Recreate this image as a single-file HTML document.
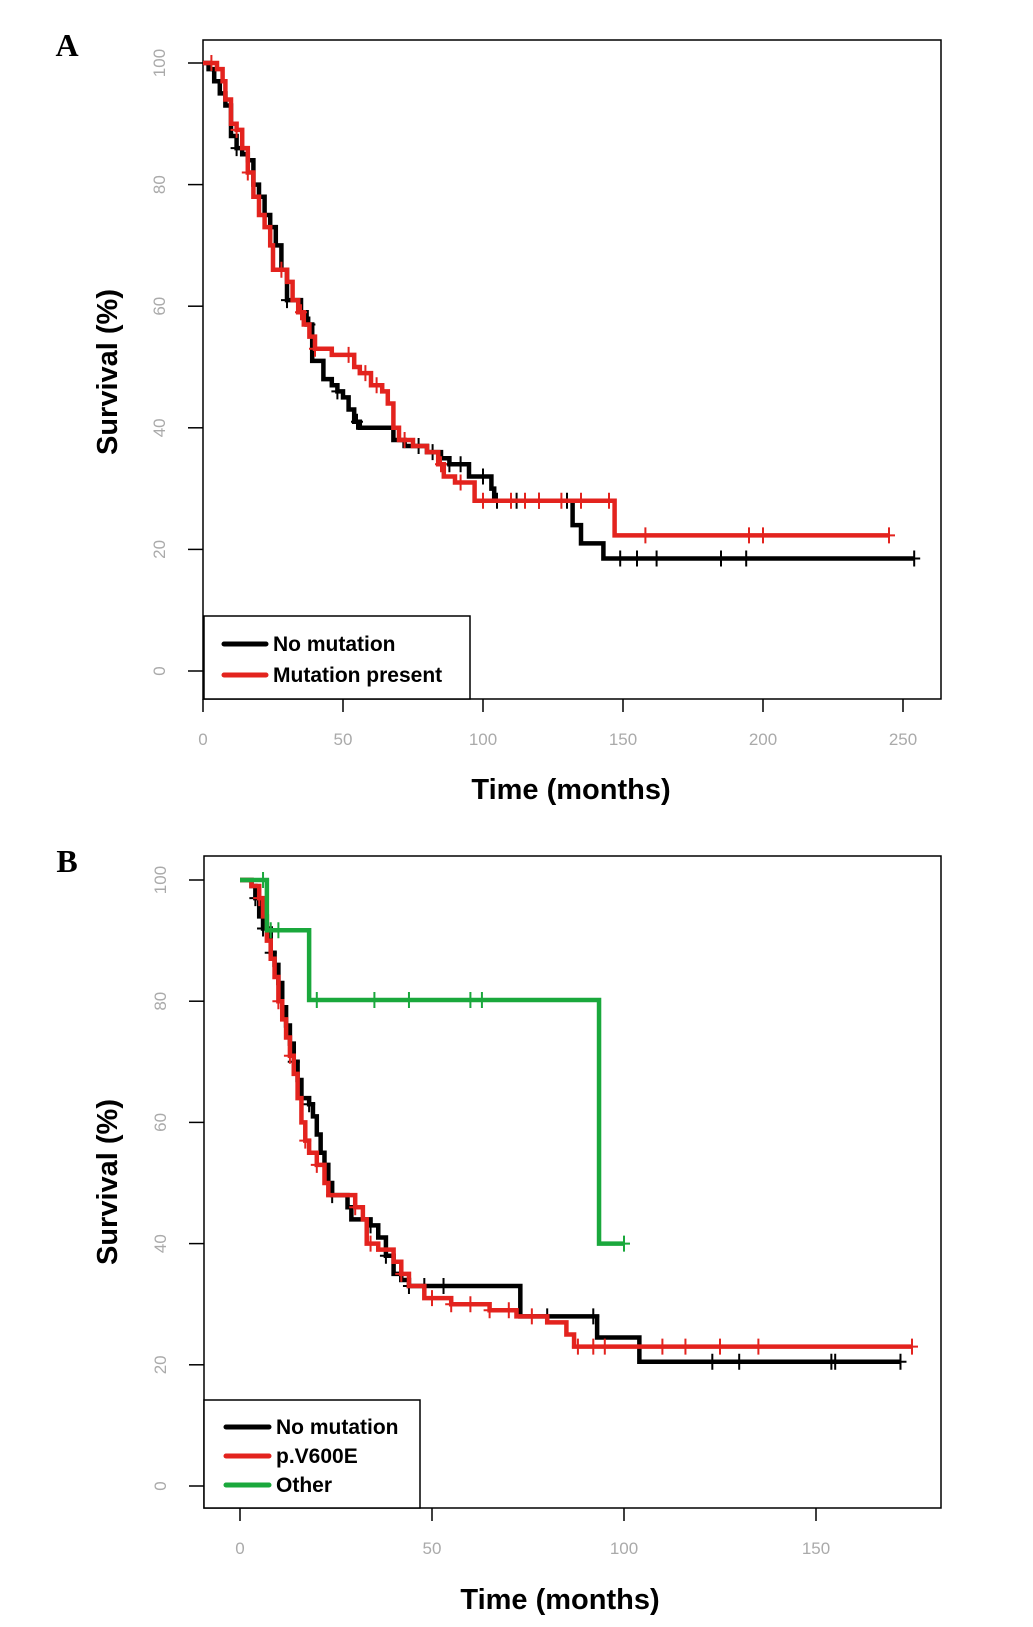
<!DOCTYPE html>
<html><head><meta charset="utf-8"><style>
html,body{margin:0;padding:0;background:#fff;}
svg{display:block;}
.tick{font-family:"Liberation Sans",sans-serif;font-size:17px;fill:#aaa;}
.axt{font-family:"Liberation Sans",sans-serif;font-size:29px;font-weight:bold;fill:#000;}
.leg{font-family:"Liberation Sans",sans-serif;font-size:21px;font-weight:bold;fill:#000;}
.pl{font-family:"Liberation Serif",serif;font-size:32px;font-weight:bold;fill:#000;}
</style></head><body>
<svg id="c" width="1033" height="1627" viewBox="0 0 1033 1627" xmlns="http://www.w3.org/2000/svg"></svg>
<script>
// Panel A data
const aXTicks=[0,50,100,150,200,250];
const aYTicks=[0,20,40,60,80,100];
const aBlackT=[0,2,4,6,8,10,12,14,16,18,20,22,24,26,28,30,32,35,37,39,41,43,46,48,50,52,54,56,65,68,72,80,85,88,95,103,104,131,132,135,142,143,254];
const aBlackS=[100,99,97,95,93,88,86,85,84,80,78,75,73,70,66,61,61,59,57,51,51,48,47,46,45,43,41,40,40,38,37,36,35,34,32,30,28,28,24,21,21,18.5,18.5];
const aBlackC=[12,30,38,48,55,77,82,88,92,100,105,112,120,130,149,155,162,185,194,254];
const aRedT=[0,5,7,8,10,12,14,16,18,20,22,24,25,28,30,32,34,36,38,40,44,46,52,54,56,60,64,66,68,70,75,80,84,86,90,96,97,146,147,245];
const aRedS=[100,99,97,94,90,89,86,82,78,75,73,70,66,66,64,61,59,57,55,53,53,52,52,50,49,47,46,44,40,38,37,36,34,32,31,31,28,28,22.3,22.3];
const aRedC=[3,12,16,28,35,40,52,58,62,72,85,92,100,110,115,120,128,135,145,158,195,200,245];
// Panel B data
const bXTicks=[0,50,100,150];
const bYTicks=[0,20,40,60,80,100];
const bBlackT=[0,3,4,5,6,8,9,10,11,12,13,14,15,16,18,19,20,21,22,23,24,28,29,34,36,38,40,42,44,72,73,92,93,103,104,172];
const bBlackS=[100,99,97,94,92,88,86,83,79,76,73,70,67,64,63,61,58,55,53,50,48,46,44,43,41,38,35,34,33,33,28,28,24.5,24.5,20.5,20.5];
const bBlackC=[4,6,8,14,18,24,34,38,44,48,53,80,92,123,130,154,155,172];
const bRedT=[0,3,5,6,7,8,9,10,11,12,13,14,15,16,17,18,20,22,23,26,30,32,33,36,40,42,44,48,55,65,72,80,85,87,175];
const bRedS=[100,99,97,94,90,87,84,80,77,74,71,68,64,60,57,55,53,50,48,48,46,44,40,39,37,35,33,31,30,29,28,27,25,23,23];
const bRedC=[5,10,13,17,20,30,34,42,50,55,60,65,70,76,88,92,95,110,116,125,135,175];
const bGreenT=[0,6,7,17,18,93,93.5,100];
const bGreenS=[100,100,91.7,91.7,80.2,80.2,40,40];
const bGreenC=[6,8,10,20,35,44,60,63,100];

const NS="http://www.w3.org/2000/svg";
const svg=document.getElementById('c');
function mk(tag,attrs,parent){const e=document.createElementNS(NS,tag);for(const k in attrs)e.setAttribute(k,attrs[k]);(parent||svg).appendChild(e);return e;}
function stepAt(T,S,t){let s=S[0];for(let i=0;i<T.length;i++){if(T[i]<=t)s=S[i];}return s;}

function panel(cfg){
  const g=mk('g',{});
  
  
  const X=t=>cfg.x0+t*cfg.xs;
  const Y=s=>cfg.y0+(cfg.y100-cfg.y0)*s/100;
  const frame=mk('rect',{x:cfg.L,y:cfg.T,width:cfg.R-cfg.L,height:cfg.B-cfg.T,fill:'none',stroke:'#000','stroke-width':1.5},g);
  
  
  cfg.xticks.forEach(v=>{
    const tk=mk('line',{x1:X(v),x2:X(v),y1:cfg.B,y2:cfg.B+13,stroke:'#000','stroke-width':1.5},g);
    
    
    const tl=mk('text',{x:X(v),y:cfg.B+46,'text-anchor':'middle',class:'tick'},g);
    tl.textContent=v;
    
    
  });
  cfg.yticks.forEach(v=>{
    const tk=mk('line',{x1:cfg.L-15,x2:cfg.L,y1:Y(v),y2:Y(v),stroke:'#000','stroke-width':1.5},g);
    
    
    const lx=cfg.L-44;
    const tl=mk('text',{x:lx,y:Y(v),'text-anchor':'middle',class:'tick',transform:`rotate(-90 ${lx} ${Y(v)})`,dy:'0.35em'},g);
    tl.textContent=v;
    
    
  });
  cfg.series.forEach(sr=>{
    let d=`M${X(sr.t[0])},${Y(sr.s[0])}`;
    for(let i=1;i<sr.t.length;i++){d+=` H${X(sr.t[i])} V${Y(sr.s[i])}`;}
    const p=mk('path',{d:d,fill:'none',stroke:sr.col,'stroke-width':4.5},g);
    
    
    sr.c.forEach(ct=>{
      const cx=X(ct),cy=Y(stepAt(sr.t,sr.s,ct));
      const m=mk('path',{d:`M${cx-6},${cy} H${cx+6} M${cx},${cy-8} V${cy+8}`,stroke:sr.col,'stroke-width':2,fill:'none'},g);
      
      
    });
  });
  const lg=mk('g',{},g);
  
  
  mk('rect',{x:cfg.leg.x,y:cfg.leg.y,width:cfg.leg.w,height:cfg.leg.h,fill:'#fff',stroke:'#000','stroke-width':1.5},lg);
  cfg.series.forEach((sr,i)=>{
    const yy=cfg.leg.ey[i];
    const e=mk('g',{},lg);
    
    
    mk('line',{x1:cfg.leg.lx1,x2:cfg.leg.lx2,y1:yy,y2:yy,stroke:sr.col,'stroke-width':5,'stroke-linecap':'round'},e);
    const tx=mk('text',{x:cfg.leg.tx,y:yy+7,class:'leg'},e);
    tx.textContent=sr.label;
  });
  const xt=mk('text',{x:cfg.xtx,y:cfg.xty,'text-anchor':'middle',class:'axt'},g);
  xt.textContent='Time (months)';
  
  
  const yt=mk('text',{x:cfg.ytx,y:cfg.yty,'text-anchor':'middle',class:'axt',transform:`rotate(-90 ${cfg.ytx} ${cfg.yty})`},g);
  yt.textContent='Survival (%)';
  
  
  const pl=mk('text',{x:cfg.plx,y:cfg.ply,class:'pl','text-anchor':'middle'},g);
  pl.textContent=cfg.letter;
  
  
}

panel({name:'panel-a',letter:'A',plx:67,ply:56,L:203,R:941,T:40,B:699,x0:203,xs:2.8,y0:671,y100:63,
  xticks:aXTicks,yticks:aYTicks,xtx:571,xty:799,ytx:117,yty:372,
  leg:{x:204,y:616,w:266,h:83,lx1:224,lx2:266,tx:273,ey:[644,675]},
  series:[{nm:'no-mutation',label:'No mutation',col:'#000',t:aBlackT,s:aBlackS,c:aBlackC},
          {nm:'mutation-present',label:'Mutation present',col:'#e3231e',t:aRedT,s:aRedS,c:aRedC}]});
panel({name:'panel-b',letter:'B',plx:67,ply:872,L:204,R:941,T:856,B:1508,x0:240,xs:3.84,y0:1486,y100:880,
  xticks:bXTicks,yticks:bYTicks,xtx:560,xty:1609,ytx:117,yty:1182,
  leg:{x:204,y:1400,w:216,h:108,lx1:226,lx2:269,tx:276,ey:[1427,1456,1485]},
  series:[{nm:'no-mutation',label:'No mutation',col:'#000',t:bBlackT,s:bBlackS,c:bBlackC},
          {nm:'p-v600e',label:'p.V600E',col:'#e3231e',t:bRedT,s:bRedS,c:bRedC},
          {nm:'other',label:'Other',col:'#1aa83c',t:bGreenT,s:bGreenS,c:bGreenC}]});
</script>
</body></html>
